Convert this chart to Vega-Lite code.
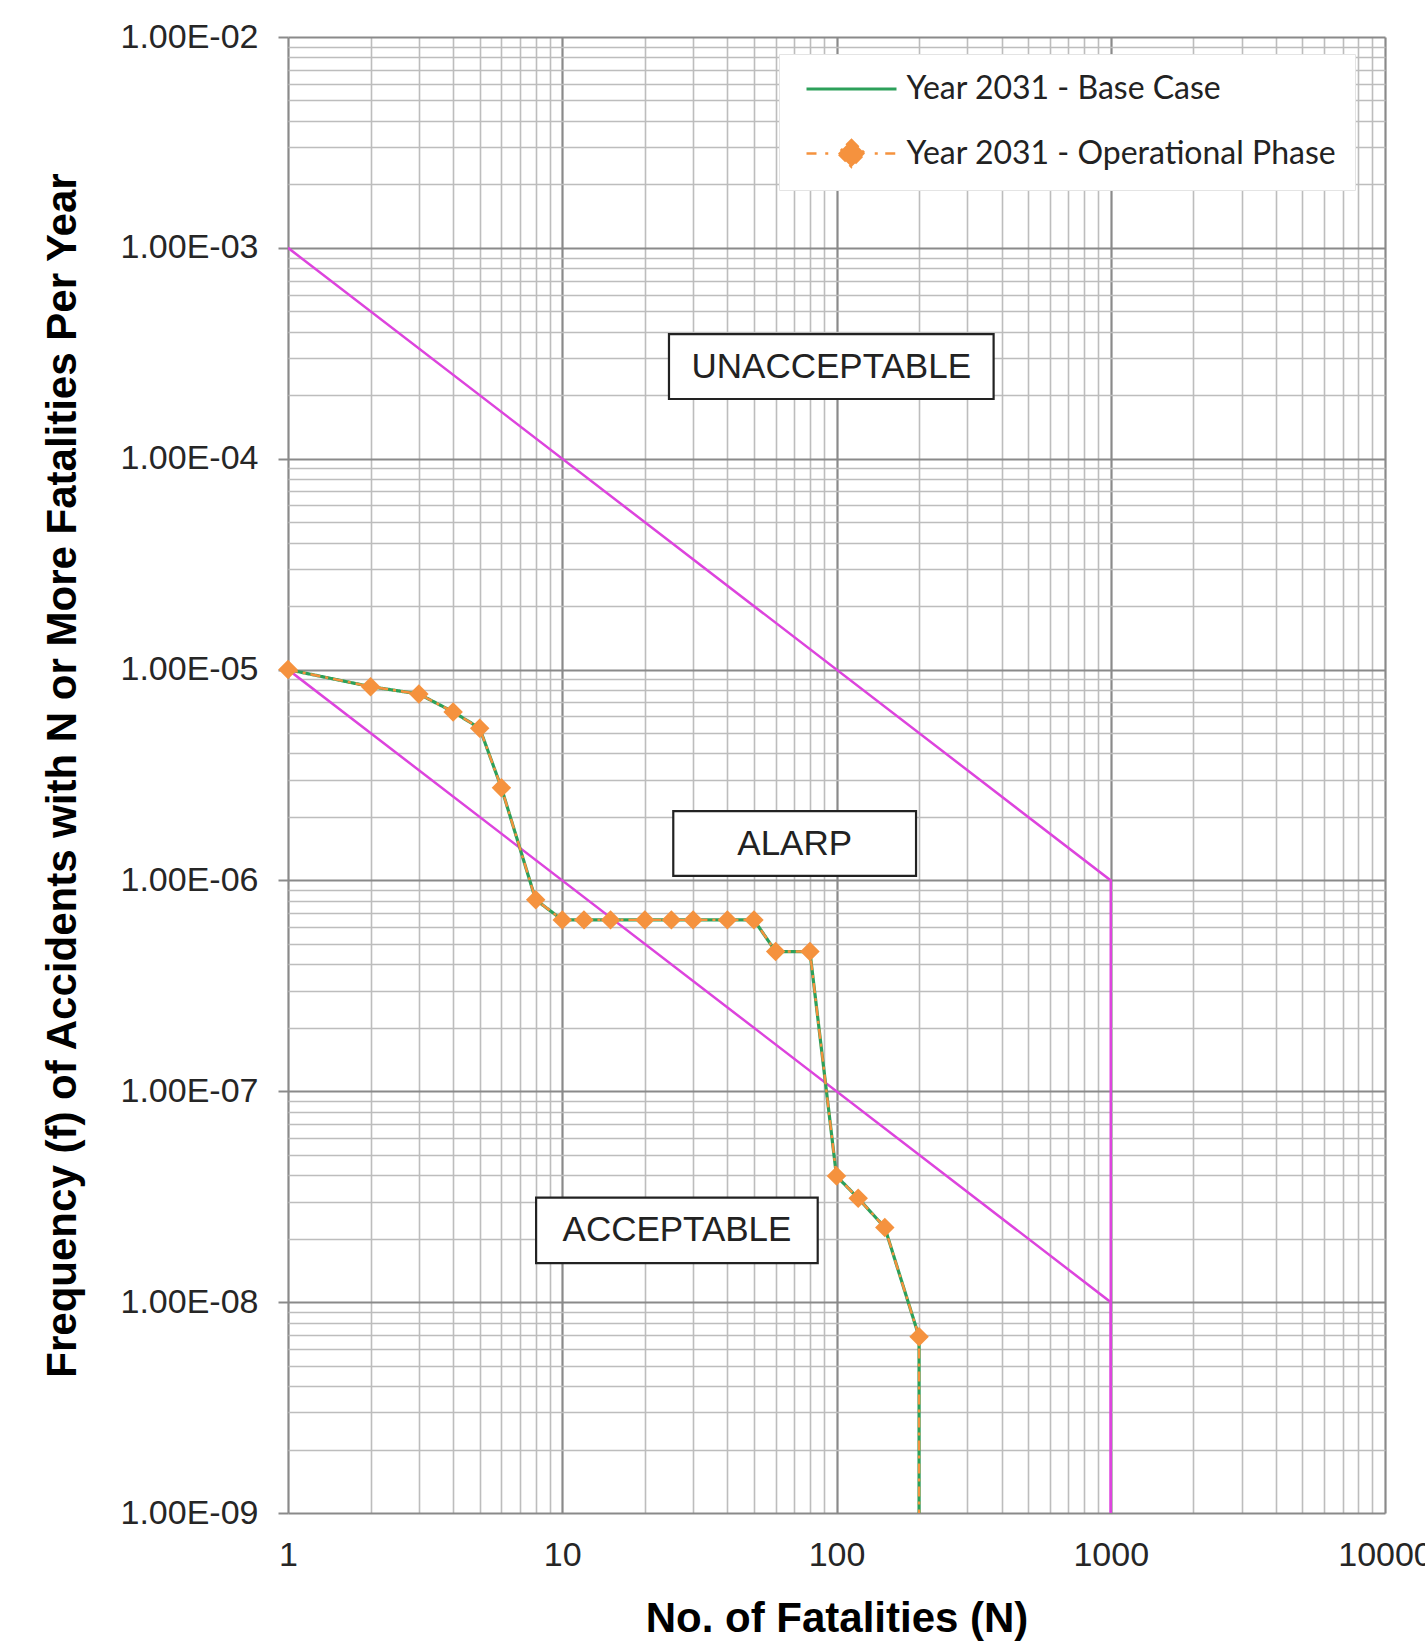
{
  "$schema": "https://vega.github.io/schema/vega-lite/v6.json",
  "width": 1097,
  "height": 1476,
  "autosize": {"type": "none"},
  "padding": {"left": 288, "top": 37, "right": 40, "bottom": 128},
  "background": "white",
  "config": {"view": {"stroke": null}, "font": "Liberation Sans"},
  "datasets": {
    "criteria": [
      {"line": "upper", "N": 1, "f": 1e-3},
      {"line": "upper", "N": 1000, "f": 1e-6},
      {"line": "upper", "N": 1000, "f": 1e-9},
      {"line": "lower", "N": 1, "f": 1e-5},
      {"line": "lower", "N": 1000, "f": 1e-8},
      {"line": "lower", "N": 1000, "f": 1e-9}
    ],
    "boxes": [
      {"label": "UNACCEPTABLE", "N": 24.5, "N2": 374, "f": 3.9e-4, "f2": 1.92e-4},
      {"label": "ALARP", "N": 25.4, "N2": 195, "f": 2.13e-6, "f2": 1.05e-6},
      {"label": "ACCEPTABLE", "N": 8.03, "N2": 85.4, "f": 3.13e-8, "f2": 1.53e-8}
    ],
    "labels": [
      {"label": "UNACCEPTABLE", "N": 95.7, "f": 2.72e-4},
      {"label": "ALARP", "N": 70.4, "f": 1.49e-6},
      {"label": "ACCEPTABLE", "N": 26.2, "f": 2.19e-8}
    ],
    "fn": [
      {"series": "Year 2031 - Base Case", "N": 1, "f": 1.0e-5},
      {"series": "Year 2031 - Base Case", "N": 2, "f": 8.3e-6},
      {"series": "Year 2031 - Base Case", "N": 3, "f": 7.66e-6},
      {"series": "Year 2031 - Base Case", "N": 4, "f": 6.3e-6},
      {"series": "Year 2031 - Base Case", "N": 5, "f": 5.27e-6},
      {"series": "Year 2031 - Base Case", "N": 6, "f": 2.75e-6},
      {"series": "Year 2031 - Base Case", "N": 8, "f": 8.1e-7},
      {"series": "Year 2031 - Base Case", "N": 10, "f": 6.5e-7},
      {"series": "Year 2031 - Base Case", "N": 12, "f": 6.5e-7},
      {"series": "Year 2031 - Base Case", "N": 15, "f": 6.5e-7},
      {"series": "Year 2031 - Base Case", "N": 20, "f": 6.5e-7},
      {"series": "Year 2031 - Base Case", "N": 25, "f": 6.5e-7},
      {"series": "Year 2031 - Base Case", "N": 30, "f": 6.5e-7},
      {"series": "Year 2031 - Base Case", "N": 40, "f": 6.5e-7},
      {"series": "Year 2031 - Base Case", "N": 50, "f": 6.5e-7},
      {"series": "Year 2031 - Base Case", "N": 60, "f": 4.6e-7},
      {"series": "Year 2031 - Base Case", "N": 80, "f": 4.6e-7},
      {"series": "Year 2031 - Base Case", "N": 100, "f": 3.96e-8},
      {"series": "Year 2031 - Base Case", "N": 120, "f": 3.11e-8},
      {"series": "Year 2031 - Base Case", "N": 150, "f": 2.26e-8},
      {"series": "Year 2031 - Base Case", "N": 200, "f": 6.85e-9},
      {"series": "Year 2031 - Base Case", "N": 200, "f": 1e-9},
      {"series": "Year 2031 - Operational Phase", "N": 1, "f": 1.0e-5},
      {"series": "Year 2031 - Operational Phase", "N": 2, "f": 8.3e-6},
      {"series": "Year 2031 - Operational Phase", "N": 3, "f": 7.66e-6},
      {"series": "Year 2031 - Operational Phase", "N": 4, "f": 6.3e-6},
      {"series": "Year 2031 - Operational Phase", "N": 5, "f": 5.27e-6},
      {"series": "Year 2031 - Operational Phase", "N": 6, "f": 2.75e-6},
      {"series": "Year 2031 - Operational Phase", "N": 8, "f": 8.1e-7},
      {"series": "Year 2031 - Operational Phase", "N": 10, "f": 6.5e-7},
      {"series": "Year 2031 - Operational Phase", "N": 12, "f": 6.5e-7},
      {"series": "Year 2031 - Operational Phase", "N": 15, "f": 6.5e-7},
      {"series": "Year 2031 - Operational Phase", "N": 20, "f": 6.5e-7},
      {"series": "Year 2031 - Operational Phase", "N": 25, "f": 6.5e-7},
      {"series": "Year 2031 - Operational Phase", "N": 30, "f": 6.5e-7},
      {"series": "Year 2031 - Operational Phase", "N": 40, "f": 6.5e-7},
      {"series": "Year 2031 - Operational Phase", "N": 50, "f": 6.5e-7},
      {"series": "Year 2031 - Operational Phase", "N": 60, "f": 4.6e-7},
      {"series": "Year 2031 - Operational Phase", "N": 80, "f": 4.6e-7},
      {"series": "Year 2031 - Operational Phase", "N": 100, "f": 3.96e-8},
      {"series": "Year 2031 - Operational Phase", "N": 120, "f": 3.11e-8},
      {"series": "Year 2031 - Operational Phase", "N": 150, "f": 2.26e-8},
      {"series": "Year 2031 - Operational Phase", "N": 200, "f": 6.85e-9},
      {"series": "Year 2031 - Operational Phase", "N": 200, "f": 1e-9}
    ]
  },
  "encoding": {
    "x": {
      "field": "N",
      "type": "quantitative",
      "scale": {"type": "log", "domain": [1, 10000], "nice": false, "zero": false},
      "axis": {
        "title": "No. of Fatalities (N)",
        "values": [1,2,3,4,5,6,7,8,9,10,20,30,40,50,60,70,80,90,100,200,300,400,500,600,700,800,900,1000,2000,3000,4000,5000,6000,7000,8000,9000,10000],
        "labelExpr": "abs(log(datum.value)/LN10 - round(log(datum.value)/LN10)) < 0.001 ? format(datum.value, 'd') : ''",
        "labelOverlap": false,
        "labelFlush": false,
        "labelFont": "Liberation Sans",
        "labelFontSize": 34,
        "labelColor": "#262626",
        "labelPadding": 25,
        "ticks": false,
        "tickSize": 0,
        "domain": false,
        "grid": true,
        "gridColor": {"condition": {"test": "abs(log(datum.value)/LN10 - round(log(datum.value)/LN10)) < 0.001", "value": "#8a8a8a"}, "value": "#bdbdbd"},
        "gridWidth": {"condition": {"test": "abs(log(datum.value)/LN10 - round(log(datum.value)/LN10)) < 0.001", "value": 2.2}, "value": 1.6},
        "titleFont": "Liberation Sans",
        "titleFontSize": 42,
        "titleFontWeight": "bold",
        "titleColor": "#000000",
        "titlePadding": 26
      }
    },
    "y": {
      "field": "f",
      "type": "quantitative",
      "scale": {"type": "log", "domain": [1e-9, 1e-2], "nice": false, "zero": false},
      "axis": {
        "title": "Frequency (f) of Accidents with N or More Fatalities Per Year",
        "values": [1e-9,2e-9,3e-9,4e-9,5e-9,6e-9,7e-9,8e-9,9e-9,1e-8,2e-8,3e-8,4e-8,5e-8,6e-8,7e-8,8e-8,9e-8,1e-7,2e-7,3e-7,4e-7,5e-7,6e-7,7e-7,8e-7,9e-7,1e-6,2e-6,3e-6,4e-6,5e-6,6e-6,7e-6,8e-6,9e-6,1e-5,2e-5,3e-5,4e-5,5e-5,6e-5,7e-5,8e-5,9e-5,1e-4,2e-4,3e-4,4e-4,5e-4,6e-4,7e-4,8e-4,9e-4,1e-3,2e-3,3e-3,4e-3,5e-3,6e-3,7e-3,8e-3,9e-3,1e-2],
        "labelExpr": "abs(log(datum.value)/LN10 - round(log(datum.value)/LN10)) < 0.001 ? '1.00E-0' + round(-log(datum.value)/LN10) : ''",
        "labelOverlap": false,
        "labelFlush": false,
        "labelFont": "Liberation Sans",
        "labelFontSize": 34,
        "labelColor": "#262626",
        "labelPadding": 20,
        "ticks": true,
        "tickSize": 10,
        "tickWidth": 2,
        "tickColor": {"condition": {"test": "abs(log(datum.value)/LN10 - round(log(datum.value)/LN10)) < 0.001", "value": "#8a8a8a"}, "value": "transparent"},
        "domain": false,
        "grid": true,
        "gridColor": {"condition": {"test": "abs(log(datum.value)/LN10 - round(log(datum.value)/LN10)) < 0.001", "value": "#8a8a8a"}, "value": "#bdbdbd"},
        "gridWidth": {"condition": {"test": "abs(log(datum.value)/LN10 - round(log(datum.value)/LN10)) < 0.001", "value": 2.2}, "value": 1.6},
        "titleFont": "Liberation Sans",
        "titleFontSize": 42,
        "titleFontWeight": "bold",
        "titleColor": "#000000",
        "titlePadding": 36
      }
    }
  },
  "layer": [
    {
      "data": {"name": "criteria"},
      "mark": {"type": "line", "color": "#dd44dd", "strokeWidth": 2.5, "clip": true},
      "encoding": {
        "detail": {"field": "line"},
        "order": [{"field": "N", "type": "quantitative", "sort": "ascending"}, {"field": "f", "type": "quantitative", "sort": "descending"}]
      }
    },
    {
      "data": {"name": "boxes"},
      "mark": {"type": "rect", "fill": "white", "stroke": "#222222", "strokeWidth": 2.2},
      "encoding": {
        "x2": {"field": "N2"},
        "y2": {"field": "f2"}
      }
    },
    {
      "data": {"name": "labels"},
      "mark": {"type": "text", "font": "Liberation Sans", "fontSize": 35, "color": "#222222", "align": "center", "baseline": "middle"},
      "encoding": {
        "text": {"field": "label"}
      }
    },
    {
      "data": {"name": "fn"},
      "mark": {"type": "line", "clip": true},
      "encoding": {
        "color": {
          "field": "series",
          "type": "nominal",
          "scale": {"domain": ["Year 2031 - Base Case", "Year 2031 - Operational Phase"], "range": ["#2ca05a", "#f5923e"]},
          "legend": {
            "orient": "none",
            "legendX": 491,
            "legendY": 17,
            "title": null,
            "direction": "vertical",
            "fillColor": "white",
            "strokeColor": "#e4e4e4",
            "padding": 18,
            "labelFont": "Lato",
            "labelFontSize": 32,
            "labelColor": "#222222",
            "labelLimit": 0,
            "labelOffset": 38,
            "symbolOffset": 37.5,
            "symbolSize": 900,
            "symbolStrokeWidth": 3,
            "symbolType": "M-3,0H3",
            "rowPadding": 30,
            "encode": {
              "symbols": {
                "update": {
                  "shape": {"signal": "datum.value === 'Year 2031 - Operational Phase' ? 'M-3,0H-2.25M-1.75,0H-1.55M0,-0.9L0.9,0L0,0.9L-0.9,0ZM1.55,0H1.75M2.25,0H3' : 'M-3,0H3'"},
                  "fill": {"signal": "datum.value === 'Year 2031 - Operational Phase' ? '#f5923e' : 'transparent'"},
                  "strokeDash": {"value": []}
                }
              }
            }
          }
        },
        "strokeDash": {
          "field": "series",
          "type": "nominal",
          "scale": {"domain": ["Year 2031 - Base Case", "Year 2031 - Operational Phase"], "range": [[1, 0], [10, 5, 3, 5]]},
          "legend": null
        },
        "strokeWidth": {
          "field": "series",
          "type": "nominal",
          "scale": {"domain": ["Year 2031 - Base Case", "Year 2031 - Operational Phase"], "range": [3.2, 2.4]},
          "legend": null
        },
        "order": [{"field": "N", "type": "quantitative", "sort": "ascending"}, {"field": "f", "type": "quantitative", "sort": "descending"}]
      }
    },
    {
      "data": {"name": "fn"},
      "transform": [
        {"filter": "datum.series === 'Year 2031 - Operational Phase' && datum.f > 1.5e-9"}
      ],
      "mark": {"type": "point", "shape": "diamond", "filled": true, "size": 380, "color": "#f5923e", "opacity": 1}
    }
  ]
}
